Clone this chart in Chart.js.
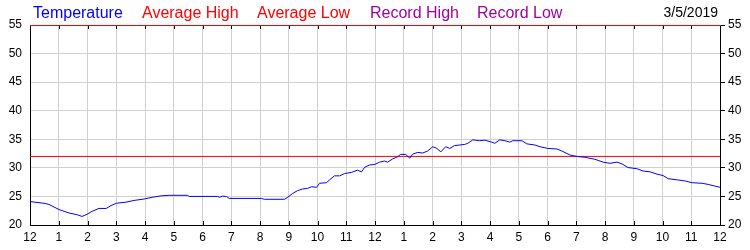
<!DOCTYPE html>
<html>
<head>
<meta charset="utf-8">
<script src="https://cdn.jsdelivr.net/npm/chart.js@4/dist/chart.umd.min.js"></script>
<style>
  html, body { margin: 0; padding: 0; background: #fff; }
  #wrap { position: relative; width: 750px; height: 250px; font-family: "Liberation Sans", Arial, sans-serif; }
  canvas { position: absolute; left: 0; top: 0; }
  .lg { position: absolute; top: 5px; font-size: 16px; line-height: 16px; white-space: nowrap; }
  .dt { position: absolute; top: 5px; right: 32px; font-size: 14px; line-height: 14px; color: #000; white-space: nowrap; }
</style>
</head>
<body>
<div id="wrap">
  <canvas id="c" width="750" height="250"></canvas>
  <span class="lg" style="left:33px;color:#0000ff">Temperature</span>
  <span class="lg" style="left:142px;color:#ff0000">Average High</span>
  <span class="lg" style="left:257px;color:#ff0000">Average Low</span>
  <span class="lg" style="left:370px;color:#a000a0">Record High</span>
  <span class="lg" style="left:477px;color:#a000a0">Record Low</span>
  <span class="dt">3/5/2019</span>
</div>
<script>
// Hours since midnight
const times = [0.00,0.49,0.66,1.01,1.36,1.64,1.81,1.99,2.16,2.40,2.65,2.82,3.00,3.34,3.62,3.97,4.25,4.56,4.84,5.47,5.54,6.52,6.59,6.69,6.83,6.93,8.05,8.15,8.85,8.95,9.13,9.30,9.48,9.65,9.79,9.97,10.07,10.31,10.42,10.59,10.77,10.94,11.18,11.39,11.53,11.64,11.81,11.99,12.16,12.33,12.44,12.61,12.79,12.89,13.07,13.21,13.31,13.48,13.66,13.83,14.01,14.15,14.29,14.46,14.60,14.77,14.95,15.12,15.23,15.40,15.64,15.82,16.06,16.17,16.34,16.52,16.69,16.79,17.11,17.28,17.56,17.74,18.01,18.33,18.50,18.78,19.02,19.30,19.65,19.93,20.17,20.42,20.59,20.80,21.11,21.32,21.57,21.81,22.02,22.20,22.51,22.79,23.03,23.38,23.59,23.83,24.00];
// Temperature readings
const temps = [24.1,23.8,23.6,22.7,22.1,21.8,21.5,21.9,22.4,22.9,22.9,23.4,23.8,24.0,24.3,24.55,24.85,25.1,25.2,25.2,25.0,25.0,24.85,25.05,25.0,24.65,24.65,24.5,24.5,24.8,25.5,26.0,26.3,26.4,26.7,26.6,27.3,27.4,27.9,28.6,28.6,29.0,29.2,29.6,29.3,30.1,30.5,30.6,31.0,31.2,31.0,31.55,31.95,32.35,32.35,31.7,32.4,32.7,32.6,32.95,33.7,33.4,32.8,33.7,33.4,33.9,34.0,34.1,34.3,34.9,34.75,34.85,34.5,34.3,34.9,34.75,34.5,34.75,34.75,34.2,34.0,33.7,33.4,33.3,32.95,32.25,32.0,31.85,31.5,31.0,30.8,31.0,30.7,30.05,29.85,29.45,29.3,28.9,28.65,28.1,27.9,27.7,27.4,27.3,27.1,26.8,26.6];
// Average high (constant for the day)
const avgHighTimes = [0, 24];
const avgHighValues = [32, 32];
// Hour tick labels
const hourLabels = ['12','1','2','3','4','5','6','7','8','9','10','11','12','1','2','3','4','5','6','7','8','9','10','11','12'];
const yMin = 20, yMax = 55, yStep = 5;

const tempData = times.map((t, i) => ({ x: t, y: temps[i] }));
const avgHighData = avgHighTimes.map((t, i) => ({ x: t, y: avgHighValues[i] }));

const FONT = { family: '"Liberation Sans", Arial, sans-serif', size: 12 };

const frame = {
  id: 'frame',
  afterDraw(chart) {
    const { ctx, chartArea: a, scales } = chart;
    const x = scales.x;
    ctx.save();
    ctx.strokeStyle = '#000';
    ctx.lineWidth = 1;
    ctx.beginPath();
    x.ticks.forEach(t => {
      const px = Math.round(x.getPixelForValue(t.value)) + 0.5;
      ctx.moveTo(px, a.bottom - 4);
      ctx.lineTo(px, a.bottom);
      ctx.moveTo(px, a.top);
      ctx.lineTo(px, a.top + 4);
    });
    ctx.stroke();
    ctx.strokeStyle = '#ff0000';
    ctx.beginPath();
    ctx.moveTo(a.left, a.top + 0.5);
    ctx.lineTo(a.right + 1, a.top + 0.5);
    ctx.stroke();
    ctx.restore();
  }
};

new Chart(document.getElementById('c'), {
  type: 'line',
  data: {
    datasets: [
      { data: tempData, borderColor: '#0000ff', borderWidth: 1, pointRadius: 0, tension: 0, yAxisID: 'y' },
      { data: avgHighData, borderColor: '#ff0000', borderWidth: 1, pointRadius: 0, tension: 0, yAxisID: 'y' }
    ]
  },
  options: {
    responsive: false,
    animation: false,
    layout: { padding: { top: 25, left: 0, right: 0, bottom: 0 } },
    plugins: { legend: { display: false }, tooltip: { enabled: false } },
    scales: {
      x: {
        type: 'linear', min: 0, max: 24,
        afterFit(s) { s.height = 25; },
        grid: { color: '#d0d0d0', drawTicks: false },
        border: { color: '#000' },
        ticks: { stepSize: 1, autoSkip: false, maxRotation: 0, padding: 5, color: '#000', font: FONT,
          callback: v => hourLabels[v] }
      },
      y: {
        position: 'left', min: yMin, max: yMax,
        afterFit(s) { s.width = 30; },
        grid: { color: '#d0d0d0', drawTicks: false },
        border: { color: '#000' },
        ticks: { stepSize: yStep, padding: 8, color: '#000', font: FONT }
      },
      y2: {
        position: 'right', min: yMin, max: yMax,
        afterFit(s) { s.width = 30; },
        grid: { drawOnChartArea: false, drawTicks: true, tickLength: 5, color: '#000' },
        border: { color: '#000' },
        ticks: { stepSize: yStep, padding: 3, color: '#000', font: FONT }
      }
    }
  },
  plugins: [frame]
});
</script>
</body>
</html>
